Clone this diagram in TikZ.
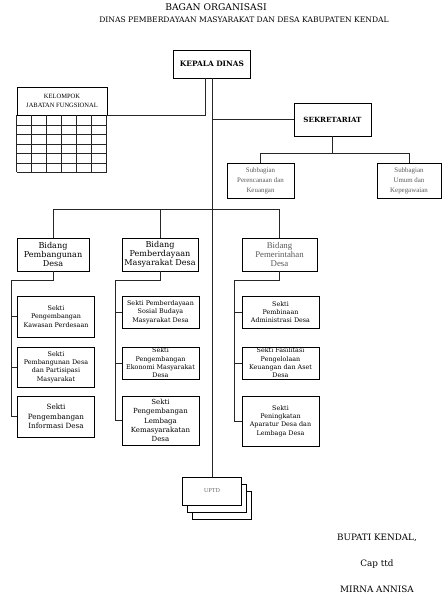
\documentclass[tikz,border=0pt]{standalone}
\usepackage{fontspec}
\setmainfont{Liberation Serif}
\newfontfamily\slabfont{DejaVu Serif}
\usetikzlibrary{positioning, calc}

\begin{document}
\begin{tikzpicture}[x=1pt, y=-1pt]
    % Styles
    \tikzstyle{unit} = [rectangle, draw, line width=0.8pt, fill=white, align=center, inner sep=1pt]
    \tikzstyle{head} = [unit, font=\slabfont\bfseries\fontsize{7.4}{9}\selectfont, minimum width=77pt]
    \tikzstyle{thin} = [unit, text=black!65, font=\fontsize{6.9}{10}\selectfont]
    \tikzstyle{bidang} = [unit, font=\slabfont\fontsize{8.1}{9.2}\selectfont, minimum height=33pt]
    \tikzstyle{sekti} = [unit, font=\slabfont\fontsize{6.4}{8.3}\selectfont, minimum width=77pt]
    \tikzstyle{uptd} = [unit, text=black!60, font=\fontsize{6}{7}\selectfont, minimum width=59pt, minimum height=28pt]
    \tikzstyle{sign} = [font=\slabfont\fontsize{8.8}{10}\selectfont]
    \tikzstyle{link} = [line width=0.8pt, draw=black!85]

    \useasboundingbox (0,0) rectangle (447,600);

    % Title
    \node (title) at (216,7) {\slabfont\fontsize{9.2}{10}\selectfont BAGAN ORGANISASI};
    \node (dinas) at (244,20) {\slabfont\fontsize{7.6}{9}\selectfont DINAS PEMBERDAYAAN MASYARAKAT DAN DESA KABUPATEN KENDAL};

    % Top level
    \node (kepala) [head, minimum height=28pt] at (212,64) {KEPALA DINAS};
    \node (kelompok) [thin, text=black, font=\fontsize{6.5}{8.3}\selectfont, minimum width=90pt, minimum height=28pt] at (62,101) {KELOMPOK\\JABATAN FUNGSIONAL};
    \node (sekretariat) [head, font=\slabfont\bfseries\fontsize{7.1}{9}\selectfont, minimum height=33pt] at (332.5,119.5) {SEKRETARIAT};
    \node (sub1) [thin, minimum width=67pt, minimum height=35pt] at (260.5,180.5) {Subbagian\\Perencanaan dan\\Keuangan};
    \node (sub2) [thin, minimum width=64pt, minimum height=35pt] at (409,180.5) {Subbagian\\Umum dan\\Kepegawaian};

    % Grid of the functional group
    \foreach \gx in {0,15,...,90}
        \draw [link] ($(kelompok.south west)+(\gx,0)$) -- ++(0,57);
    \foreach \gy in {9.5,19,...,57}
        \draw [link] ($(kelompok.south west)+(0,\gy)$) -- ++(90,0);

    % Bidang
    \node (bid1) [bidang, minimum width=72pt] at (53,254.5) {Bidang\\Pembangunan\\Desa};
    \node (bid2) [bidang, minimum width=76pt] at (160,254.5) {Bidang\\Pemberdayaan\\Masyarakat Desa};
    \node (bid3) [bidang, text=black!65, font=\fontsize{8.8}{9.3}\selectfont, minimum width=75pt] at (279.5,254.5) {Bidang\\Pemerintahan\\Desa};

    % Sekti, Bidang Pembangunan Desa
    \node (s11) [sekti, minimum height=41pt] at (56,316.5) {Sekti\\Pengembangan\\Kawasan Perdesaan};
    \node (s12) [sekti, minimum height=40pt] at (56,367) {Sekti\\Pembangunan Desa\\dan Partisipasi\\Masyarakat};
    \node (s13) [sekti, minimum height=41pt, font=\slabfont\fontsize{7.2}{9.3}\selectfont] at (56,416.5) {Sekti\\Pengembangan\\Informasi Desa};

    % Sekti, Bidang Pemberdayaan Masyarakat Desa
    \node (s21) [sekti, minimum height=32pt] at (160.5,312) {Sekti Pemberdayaan\\Sosial Budaya\\Masyarakat Desa};
    \node (s22) [sekti, minimum height=32pt] at (160.5,363) {Sekti\\Pengembangan\\Ekonomi Masyarakat\\Desa};
    \node (s23) [sekti, minimum height=49pt, font=\slabfont\fontsize{7}{9.2}\selectfont] at (160.5,420.5) {Sekti\\Pengembangan\\Lembaga\\Kemasyarakatan\\Desa};

    % Sekti, Bidang Pemerintahan Desa
    \node (s31) [sekti, minimum height=32pt] at (280.5,312) {Sekti\\Pembinaan\\Administrasi Desa};
    \node (s32) [sekti, minimum height=32pt] at (280.5,363) {Sekti Fasilitasi\\Pengelolaan\\Keuangan dan Aset\\Desa};
    \node (s33) [sekti, minimum height=50pt] at (280.5,421) {Sekti\\Peningkatan\\Aparatur Desa dan\\Lembaga Desa};

    % UPTD stack
    \node (uptd3) [uptd] at (222,505) {};
    \node (uptd2) [uptd] at (217,498) {};
    \node (uptd) [uptd] at (212,491) {UPTD};

    % Signature
    \node (bupati) [sign] at (377,538) {BUPATI KENDAL,};
    \node (cap) [sign] at (377,564) {Cap ttd};
    \node (nama) [sign] at (377,589) {MIRNA ANNISA};

    % Coordinates of the lines
    \coordinate (bus) at (212,209);
    \coordinate (sp1) at (11,280);
    \coordinate (sp2) at (115,280);
    \coordinate (sp3) at (234,280);

    % Main lines
    \draw [link] (kepala.south) -- (uptd.north);
    \draw [link] ([xshift=-7pt]kepala.south) |- (kelompok.south east);
    \draw [link] (kepala.south |- sekretariat.west) -- (sekretariat.west);
    \draw [link] (sekretariat.south) -- ++(0,17) -| (sub1.north);
    \draw [link] (sekretariat.south) -- ++(0,17) -| (sub2.north);
    \draw [link] (bus) -| (bid1.north);
    \draw [link] (bus) -| (bid2.north);
    \draw [link] (bus) -| (bid3.north);

    % Bidang to Sekti
    \draw [link] (bid1.south) |- (sp1) |- (s13.west);
    \draw [link] (sp1) |- (s11.west);
    \draw [link] (sp1) |- (s12.west);
    \draw [link] (bid2.south) |- (sp2) |- (s23.west);
    \draw [link] (sp2) |- (s21.west);
    \draw [link] (sp2) |- (s22.west);
    \draw [link] (bid3.south) |- (sp3) |- (s33.west);
    \draw [link] (sp3) |- (s31.west);
    \draw [link] (sp3) |- (s32.west);

\end{tikzpicture}
\end{document}
